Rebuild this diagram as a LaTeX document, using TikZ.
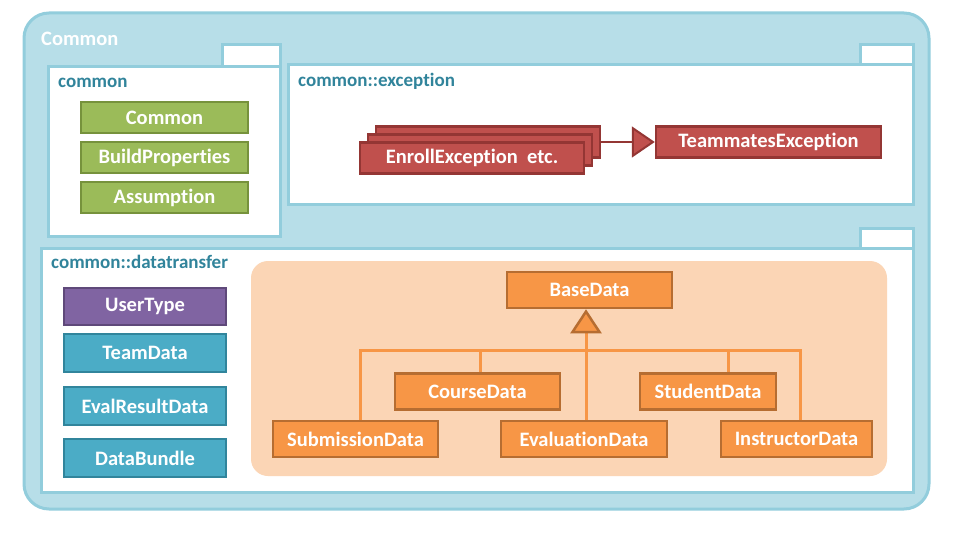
\documentclass[tikz,border=0pt]{standalone}
\usepackage{fontspec}
\setmainfont{Carlito}[Ligatures = NoCommon]
\usepackage{tikz}
\usetikzlibrary{arrows.meta}
\definecolor{pkgfill}{HTML}{B7DEE8}
\definecolor{pkgline}{HTML}{92CDDC}
\definecolor{pkgtext}{HTML}{31849B}
\definecolor{greenfill}{HTML}{9BBB59}
\definecolor{greenline}{HTML}{76923C}
\definecolor{redfill}{HTML}{C0504D}
\definecolor{redline}{HTML}{943634}
\definecolor{purplefill}{HTML}{8064A2}
\definecolor{purpleline}{HTML}{5F497A}
\definecolor{bluefill}{HTML}{4BACC6}
\definecolor{blueline}{HTML}{31859C}
\definecolor{orangefill}{HTML}{F79646}
\definecolor{orangeline}{HTML}{B66D31}
\definecolor{orangebg}{HTML}{FBD5B5}

\begin{document}
\begin{tikzpicture}[x = 1pt, y = -1pt,
        cls/.style = {draw, line width = 2.5pt, text = white, inner sep = 0pt,
            font = \fontsize{20.5}{24}\selectfont\bfseries},
        greencls/.style = {cls, fill = greenfill, draw = greenline, minimum width = 167pt, minimum height = 31pt},
        redcls/.style = {cls, fill = redfill, draw = redline, minimum width = 224pt, minimum height = 31pt},
        purplecls/.style = {cls, fill = purplefill, draw = purpleline, minimum width = 162pt, minimum height = 37pt},
        bluecls/.style = {cls, fill = bluefill, draw = blueline, minimum width = 162pt, minimum height = 38pt},
        orangecls/.style = {cls, fill = orangefill, draw = orangeline, minimum height = 36pt},
        pkg/.style = {fill = white, draw = pkgline, line width = 3pt},
        pkglabel/.style = {anchor = west, text = pkgtext, inner sep = 0pt,
            font = \fontsize{19}{22}\selectfont\bfseries},
        extends/.style = {draw = redline, line width = 2pt,
            -{Triangle[length = 23pt, width = 31pt, fill = redfill]}},
        inherit/.style = {draw = orangefill, line width = 3pt,
            -{Triangle[length = 24pt, width = 31pt, fill = orangefill, color = orangeline, line width = 2.5pt]}},
        bus/.style = {draw = orangefill, line width = 3pt}]
        \useasboundingbox (0, 0) rectangle (960, 537);

        \draw[fill = pkgfill, draw = pkgline, line width = 3pt, rounded corners = 25pt] (24, 13) rectangle (929, 509);
        \node[anchor = west, text = white, inner sep = 0pt, font = \fontsize{20.5}{24}\selectfont\bfseries] (title) at (41, 39) {Common};

        \draw[pkg] (222, 45) rectangle (280, 67);
        \draw[pkg] (48, 67) rectangle (280, 237);
        \node[pkglabel] (commonlabel) at (58, 83) {common};

        \draw[pkg] (860, 45) rectangle (913, 65);
        \draw[pkg] (288, 65) rectangle (913, 205);
        \node[pkglabel] (exceptionlabel) at (298, 81) {common::exception};

        \draw[pkg] (860, 229) rectangle (913, 248);
        \draw[pkg] (41, 248) rectangle (913, 492);
        \node[pkglabel] (datatransferlabel) at (51, 262) {common::datatransfer};

        \node[greencls] (common) at (164.5, 117.5) {Common};
        \node[greencls] (buildprops) at (164.5, 157.5) {BuildProperties};
        \node[greencls] (assumption) at (164.5, 197.5) {Assumption};

        \node[redcls] (enroll3) at (488, 142) {};
        \node[redcls] (enroll2) at (480, 150) {};
        \node[redcls] (enroll) at (472, 158) {EnrollException\ \ etc.};
        \node[redcls, minimum width = 225pt] (teammates) at (768.5, 142) {TeammatesException};
        \draw[extends] (enroll3) -- (teammates);

        \node[purplecls] (usertype) at (145, 306.5) {UserType};
        \node[bluecls] (teamdata) at (145, 353) {TeamData};
        \node[bluecls] (evalresult) at (145, 406) {EvalResultData};
        \node[bluecls] (databundle) at (145, 458) {DataBundle};

        \fill[orangebg, rounded corners = 17pt] (251, 261) rectangle (887, 476);

        \node[orangecls, minimum width = 165pt] (basedata) at (589.5, 290) {BaseData};
        \node[orangecls, minimum width = 165pt] (coursedata) at (477.5, 391.5) {CourseData};
        \node[orangecls, minimum width = 136pt] (studentdata) at (708, 391.5) {StudentData};
        \node[orangecls, minimum width = 165pt] (submissiondata) at (355.5, 439) {SubmissionData};
        \node[orangecls, minimum width = 166pt] (evaluationdata) at (584, 439) {EvaluationData};
        \node[orangecls, minimum width = 151pt] (instructordata) at (796.5, 439) {InstructorData};

        \coordinate (hub) at (586, 350);
        \draw[bus] ([xshift = 4.5pt]submissiondata.north) |- (hub) -| ([xshift = 3.5pt]instructordata.north);
        \draw[bus] ([xshift = 2.5pt]coursedata.north) -- ([xshift = 2.5pt]coursedata.north |- hub);
        \draw[bus] ([xshift = 20pt]studentdata.north) -- ([xshift = 20pt]studentdata.north |- hub);
        \draw[inherit] (evaluationdata.north -| hub) -- (basedata.south -| hub);

    \end{tikzpicture}
\end{document}
